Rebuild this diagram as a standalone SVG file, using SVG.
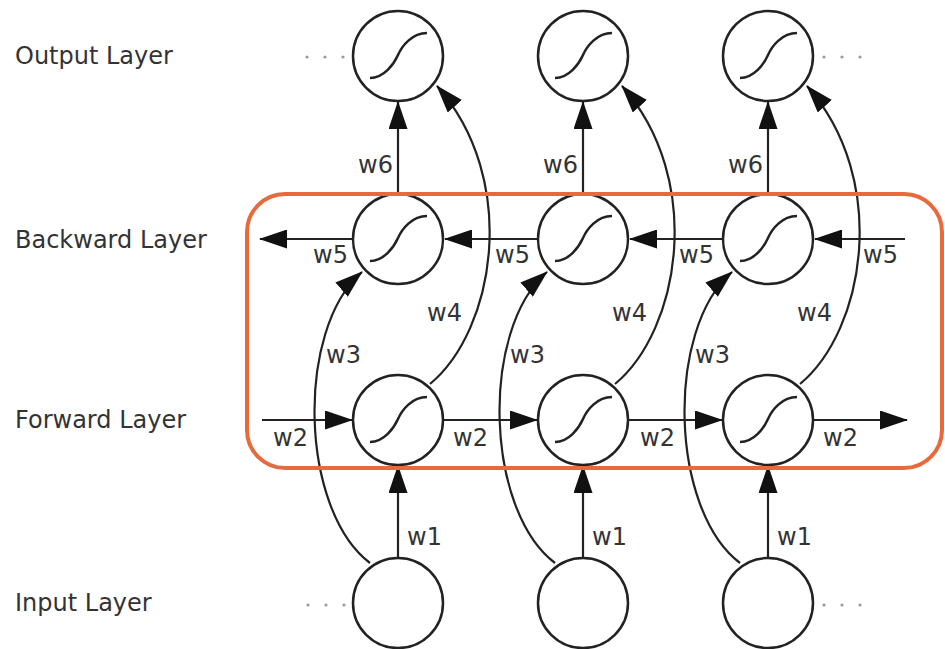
<svg xmlns="http://www.w3.org/2000/svg" width="945" height="649" viewBox="0 0 945 649">
<style>
.lbl{font-family:"DejaVu Sans",Verdana,sans-serif;font-size:24px;fill:#333}
.w{font-family:"DejaVu Sans",Verdana,sans-serif;font-size:24px;fill:#333}
.node{fill:#fff;stroke:#222;stroke-width:2.5}
.sig{fill:none;stroke:#222;stroke-width:2.5}
.con{fill:none;stroke:#222;stroke-width:2.2;marker-end:url(#ah)}
.dot{fill:#9a9a9a}
</style>
<defs>
<marker id="ah" markerUnits="userSpaceOnUse" markerWidth="28" markerHeight="19" refX="27" refY="9.5" orient="auto">
<path d="M0,0 L28,9.5 L0,19 z" fill="#111"/>
</marker>
<path id="sg" d="M-28,22 C-14,22 -4,8 0,-1 C4,-10 14,-23 29,-23"/>
</defs>
<rect width="945" height="649" fill="#fff"/>

<g id="layer-labels">
<text class="lbl" x="15" y="64">Output Layer</text>
<text class="lbl" x="15" y="248">Backward Layer</text>
<text class="lbl" x="15" y="428">Forward Layer</text>
<text class="lbl" x="15" y="611">Input Layer</text>
</g>

<g id="connectors">
<!-- w6 -->
<path class="con" d="M398,194 L398,102"/>
<path class="con" d="M583,194 L583,102"/>
<path class="con" d="M768,194 L768,102"/>
<!-- w1 -->
<path class="con" d="M398,558 L398,466"/>
<path class="con" d="M583,558 L583,466"/>
<path class="con" d="M768,558 L768,466"/>
<!-- w5 backward -->
<path class="con" d="M353,239 L260,239"/>
<path class="con" d="M538,239 L445,239"/>
<path class="con" d="M723,239 L630,239"/>
<path class="con" d="M905,239 L815,239"/>
<!-- w2 forward -->
<path class="con" d="M262,420 L352,420"/>
<path class="con" d="M444,420 L537,420"/>
<path class="con" d="M629,420 L722,420"/>
<path class="con" d="M814,420 L907,420"/>
<!-- w3 -->
<path class="con" d="M370,563 C300,510 295,330 362,272"/>
<path class="con" d="M555,563 C485,510 480,330 547,272"/>
<path class="con" d="M740,563 C670,510 665,330 732,272"/>
<!-- w4 -->
<path class="con" d="M430,384 C495,330 520,180 437,86"/>
<path class="con" d="M615,384 C680,330 705,180 622,86"/>
<path class="con" d="M800,384 C865,330 890,180 807,86"/>
</g>

<g id="weight-labels">
<text class="w" x="358" y="173">w6</text>
<text class="w" x="543" y="173">w6</text>
<text class="w" x="728" y="173">w6</text>
<text class="w" x="313" y="263">w5</text>
<text class="w" x="495" y="263">w5</text>
<text class="w" x="679" y="263">w5</text>
<text class="w" x="863" y="263">w5</text>
<text class="w" x="427" y="321">w4</text>
<text class="w" x="612" y="321">w4</text>
<text class="w" x="797" y="321">w4</text>
<text class="w" x="326" y="363">w3</text>
<text class="w" x="510" y="363">w3</text>
<text class="w" x="695" y="363">w3</text>
<text class="w" x="273" y="446">w2</text>
<text class="w" x="453" y="446">w2</text>
<text class="w" x="640" y="446">w2</text>
<text class="w" x="823" y="446">w2</text>
<text class="w" x="407" y="545">w1</text>
<text class="w" x="592" y="545">w1</text>
<text class="w" x="777" y="545">w1</text>
</g>

<g id="ellipses">
<circle class="dot" cx="307" cy="57" r="1.6"/><circle class="dot" cx="325" cy="57" r="1.6"/><circle class="dot" cx="343" cy="57" r="1.6"/>
<circle class="dot" cx="824" cy="57" r="1.6"/><circle class="dot" cx="842" cy="57" r="1.6"/><circle class="dot" cx="860" cy="57" r="1.6"/>
<circle class="dot" cx="308" cy="605" r="1.6"/><circle class="dot" cx="326" cy="605" r="1.6"/><circle class="dot" cx="344" cy="605" r="1.6"/>
<circle class="dot" cx="824" cy="605" r="1.6"/><circle class="dot" cx="842" cy="605" r="1.6"/><circle class="dot" cx="860" cy="605" r="1.6"/>
</g>

<g id="out1"><circle class="node" cx="398" cy="56" r="45"/><use href="#sg" class="sig" x="398" y="56"/></g>
<g id="out2"><circle class="node" cx="583" cy="56" r="45"/><use href="#sg" class="sig" x="583" y="56"/></g>
<g id="out3"><circle class="node" cx="768" cy="56" r="45"/><use href="#sg" class="sig" x="768" y="56"/></g>

<g id="bwd1"><circle class="node" cx="398" cy="239" r="45"/><use href="#sg" class="sig" x="398" y="239"/></g>
<g id="bwd2"><circle class="node" cx="583" cy="239" r="45"/><use href="#sg" class="sig" x="583" y="239"/></g>
<g id="bwd3"><circle class="node" cx="768" cy="239" r="45"/><use href="#sg" class="sig" x="768" y="239"/></g>

<g id="fwd1"><circle class="node" cx="398" cy="420" r="45"/><use href="#sg" class="sig" x="398" y="420"/></g>
<g id="fwd2"><circle class="node" cx="583" cy="420" r="45"/><use href="#sg" class="sig" x="583" y="420"/></g>
<g id="fwd3"><circle class="node" cx="768" cy="420" r="45"/><use href="#sg" class="sig" x="768" y="420"/></g>

<g id="in1"><circle class="node" cx="398" cy="603" r="45"/></g>
<g id="in2"><circle class="node" cx="583" cy="603" r="45"/></g>
<g id="in3"><circle class="node" cx="768" cy="603" r="45"/></g>

<g id="bidirectional-box">
<rect x="247" y="194" width="695" height="274" rx="38" ry="38" fill="none" stroke="#E8693C" stroke-width="4"/>
</g>
</svg>
